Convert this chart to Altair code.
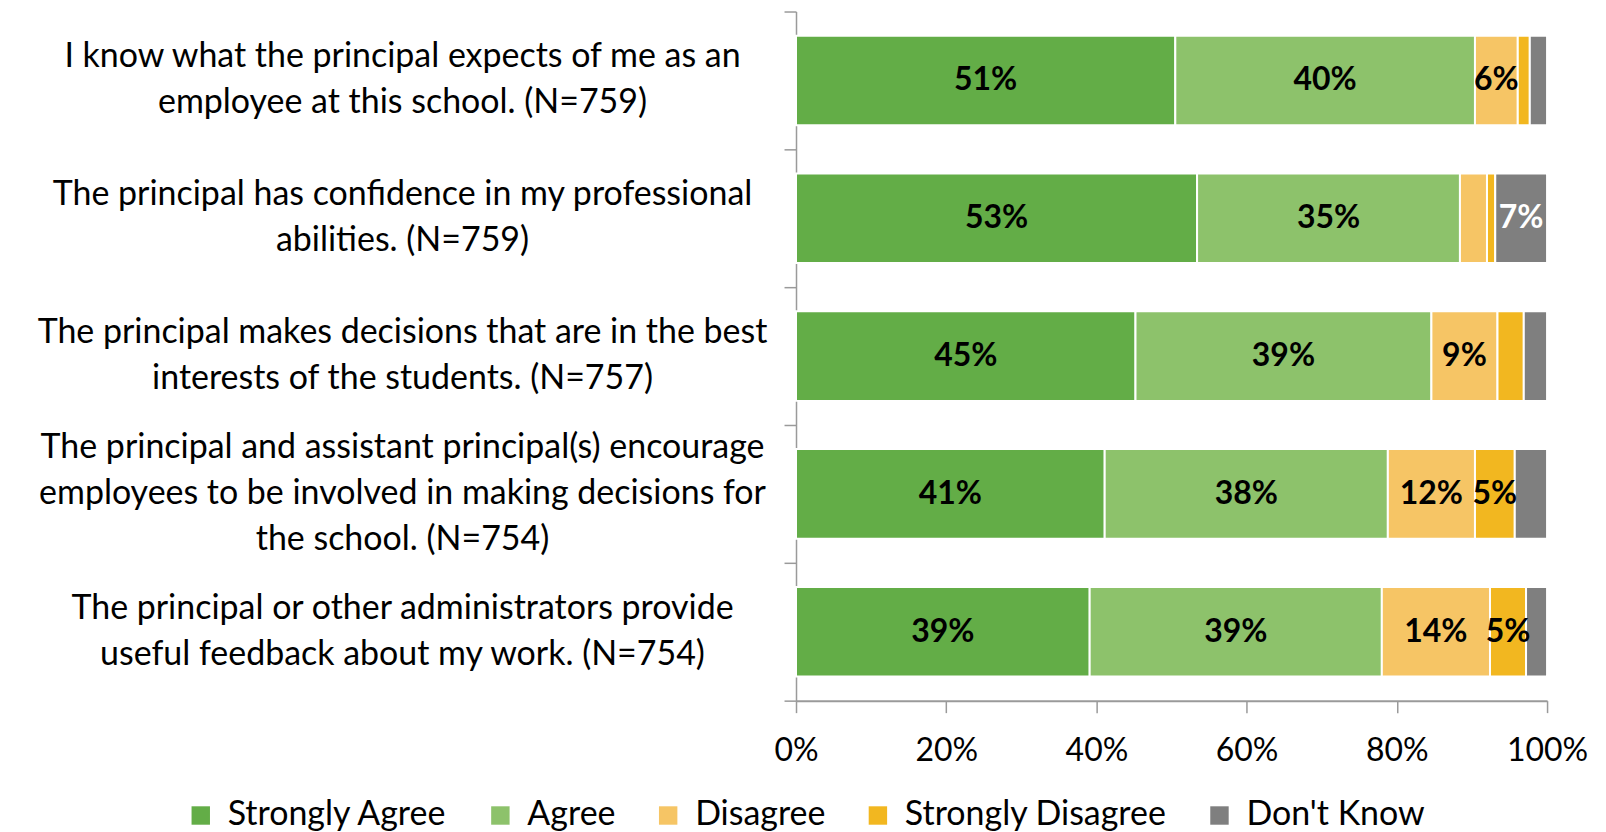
import altair as alt
import pandas as pd

question_lines = [
    ["I know what the principal expects of me as an", "employee at this school. (N=759)"],
    ["The principal has confidence in my professional", "abilities. (N=759)"],
    ["The principal makes decisions that are in the best", "interests of the students. (N=757)"],
    ["The principal and assistant principal(s) encourage",
     "employees to be involved in making decisions for", "the school. (N=754)"],
    ["The principal or other administrators provide", "useful feedback about my work. (N=754)"],
]
questions = [" ".join(lines) for lines in question_lines]
responses = ["Strongly Agree", "Agree", "Disagree", "Strongly Disagree", "Don't Know"]
colors = ["#63ad47", "#8dc26b", "#f6c565", "#f2b720", "#7f7f7f"]
label_colors = ["black", "black", "black", "black", "white"]

strongly_agree = [50.5, 53.4, 45.2, 41.1, 39.1]
agree = [39.9, 35.0, 39.4, 37.7, 38.9]
disagree = [5.7, 3.6, 8.8, 11.6, 14.4]
strongly_disagree = [1.6, 1.1, 3.5, 5.3, 4.8]
dont_know = [2.3, 6.9, 3.1, 4.3, 2.8]

x_ticks = [0, 0.2, 0.4, 0.6, 0.8, 1.0]

series = [strongly_agree, agree, disagree, strongly_disagree, dont_know]
rows = []
for qi, q in enumerate(questions):
    for ri, r in enumerate(responses):
        v = series[ri][qi]
        rows.append({
            "q": q,
            "resp": r,
            "order": ri,
            "pct": v / 100.0,
            "label": f"{int(v + 0.5)}%" if v >= 4.5 else "",
            "tcolor": label_colors[ri],
        })
df = pd.DataFrame(rows)

line_rows = []
for qi, lines in enumerate(question_lines):
    for li, line in enumerate(lines):
        line_rows.append({"q": questions[qi], "line": line, "li": li, "n": len(lines)})
df_lines = pd.DataFrame(line_rows)

FONT = "Lato"
GRAY = "#9a9a9a"
PLOT_W, PLOT_H = 752, 690
STEP = PLOT_H / len(questions)
LINE_H = 46

y_scale = alt.Scale(domain=questions, paddingInner=0, paddingOuter=0)

base = alt.Chart(df).transform_stack(
    stack="pct", groupby=["q"], as_=["x0", "x1"],
    sort=[alt.SortField("order", order="ascending")],
).transform_calculate(mid="(datum.x0 + datum.x1) / 2")

y_enc = alt.Y(
    "q:N", sort=questions, title=None, scale=y_scale,
    axis=alt.Axis(
        labels=False,
        tickBand="extent", tickSize=12, tickColor=GRAY, tickWidth=1.5,
        domainColor=GRAY, domainWidth=1.5,
        minExtent=789, maxExtent=789,
    ),
)

bars = base.mark_bar(stroke="white", strokeWidth=2, height={"band": 0.65}).encode(
    x=alt.X(
        "x0:Q", title=None, scale=alt.Scale(domain=[0, 1]),
        axis=alt.Axis(
            format="%", values=x_ticks, labelFont=FONT, labelFontSize=32,
            labelColor="black", labelFlush=False, tickSize=12, tickColor=GRAY,
            tickWidth=1.5, domainColor=GRAY, domainWidth=2, labelPadding=23,
            grid=False,
        ),
    ),
    x2="x1:Q",
    y=y_enc,
    color=alt.Color(
        "resp:N", sort=responses,
        scale=alt.Scale(domain=responses, range=colors),
        legend=alt.Legend(
            title=None, orient="none", legendX=-613, legendY=788,
            direction="horizontal", symbolType="square", symbolSize=340,
            symbolStrokeWidth=0, labelFont=FONT, labelFontSize=34,
            labelColor="black", columnPadding=35, labelOffset=10,
            labelLimit=1000, padding=0,
        ),
    ),
)

text = base.mark_text(font=FONT, fontSize=32, fontWeight="bold").encode(
    x=alt.X("mid:Q"),
    y=alt.Y("q:N", sort=questions, scale=y_scale),
    text="label:N",
    color=alt.Color("tcolor:N", scale=None),
)

qlabels = alt.Chart(df_lines).transform_calculate(
    off=f"(datum.li - (datum.n - 1) / 2) * {LINE_H} + {STEP / 2}"
).mark_text(
    font=FONT, fontSize=34, align="center", baseline="middle", color="black"
).encode(
    x=alt.value(-394),
    y=alt.Y("q:N", sort=questions, scale=y_scale),
    yOffset=alt.YOffset("off:Q", scale=None),
    text="line:N",
)

chart = alt.layer(bars, text, qlabels).properties(
    width=PLOT_W, height=PLOT_H,
    padding={"left": 0, "top": 2, "right": 10, "bottom": 0},
).configure_view(stroke=None).configure_axis(grid=False)

chart.save("out.html", embed_options={"renderer": "svg", "actions": False})
